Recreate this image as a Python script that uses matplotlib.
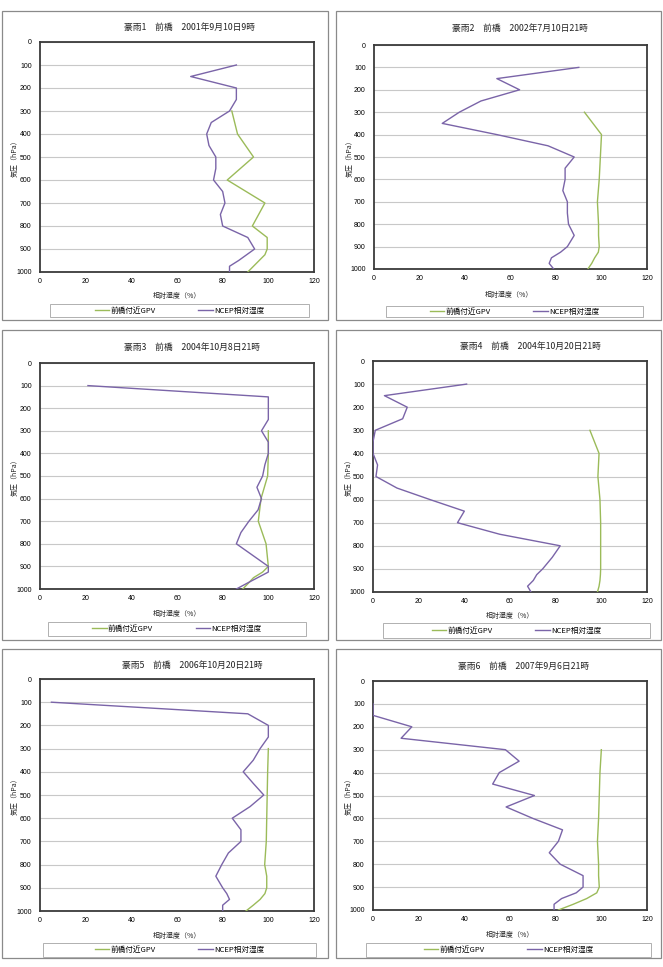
import matplotlib
matplotlib.use('Agg')
import matplotlib.pyplot as plt
from matplotlib.patches import Rectangle
from matplotlib.lines import Line2D

plt.rcParams['font.family'] = ['Noto Sans CJK JP', 'DejaVu Sans']

# ---------------- data ----------------
P_NCEP = [100, 150, 200, 250, 300, 350, 400, 450, 500, 550, 600, 650, 700,
          750, 800, 850, 900, 925, 950, 975, 1000]
P_GPV = [300, 400, 500, 600, 700, 800, 850, 900, 925, 950, 975, 1000]

NCEP1 = [86, 66, 86, 86, 83, 75, 73, 74, 77, 77, 76, 80, 81, 79, 80, 91, 94, 90.5, 87, 83, 83]
GPV1 = [84, 86.5, 93.5, 82, 98.5, 93, 99.5, 99.5, 98.5, 96, 93.5, 91]

NCEP2 = [90, 54, 64, 47, 37.5, 30, 54, 76.5, 88, 84, 84, 83, 85, 85, 85.5, 88, 85, 82, 78, 77, 79]
GPV2 = [92.5, 100, 99.5, 99, 98.2, 98.7, 98.7, 99, 98.6, 97, 95.7, 94]

NCEP3 = [21, 100, 100, 100, 97, 100, 100, 98.5, 97.5, 95, 97, 95.5, 91.5, 88, 86, 93, 100, 100, 95.3, 90.6, 86]
GPV3 = [100, 100, 99.7, 96.8, 95.6, 99, 99.5, 100, 97.5, 93.5, 91.2, 88.8]

NCEP4 = [41, 5, 15, 13, 1, 0, 0, 2, 1.3, 10.5, 25, 40, 37, 55.5, 82, 78.5, 74.3, 71.7, 70.2, 67.7, 69.2]
GPV4 = [95, 99, 98.5, 99.4, 99.7, 99.7, 99.7, 99.7, 99.6, 99.4, 99, 98.3]

NCEP5 = [5, 91, 100, 100, 96.4, 93.4, 89, 93.4, 98, 92, 84.2, 88, 88, 82.5, 79.6, 77, 80, 81.8, 83, 80, 80]
GPV5 = [100, 99.7, 99.5, 99.3, 99.1, 98.4, 99.3, 99.3, 98.5, 96.4, 93.4, 90.2]

NCEP6 = [0, 0, 17, 12.3, 58, 64, 55.3, 52.4, 70.7, 58.3, 70, 83, 81.2, 77.2, 82, 92, 92, 89, 82.6, 79.3, 79.3]
GPV6 = [100, 99.4, 99.1, 98.8, 98.3, 98.8, 98.8, 99.1, 98, 93.6, 87.7, 81.2]

NCEP = [NCEP1, NCEP2, NCEP3, NCEP4, NCEP5, NCEP6]
GPV = [GPV1, GPV2, GPV3, GPV4, GPV5, GPV6]

TITLES = ['豪雨1\u3000前橋\u30002001年9月10日9時',
          '豪雨2\u3000前橋\u30002002年7月10日21時',
          '豪雨3\u3000前橋\u30002004年10月8日21時',
          '豪雨4\u3000前橋\u30002004年10月20日21時',
          '豪雨5\u3000前橋\u30002006年10月20日21時',
          '豪雨6\u3000前橋\u30002007年9月6日21時']
LEGEND_LABELS = ['前橋付近GPV', 'NCEP相対湿度']
XLABEL = '相対湿度（%）'
YLABEL = '気圧（hPa）'
XTICKS = [0, 20, 40, 60, 80, 100, 120]
YTICKS = [0, 100, 200, 300, 400, 500, 600, 700, 800, 900, 1000]

GREEN = '#9BBB59'
PURPLE = '#7A64A8'

# ---------------- layout (pixels) ----------------
W, H = 663, 967
LAYOUT = [
    dict(box=(2, 11, 328, 320), plot=(40, 42, 314, 272), title=(190, 27),
         xl=(177, 296), yl=(15, 157), leg=(50, 304, 309, 317)),
    dict(box=(336, 11, 661, 320), plot=(374, 45, 647, 269), title=(520, 28),
         xl=(509, 295), yl=(350, 157), leg=(386, 306, 643, 317)),
    dict(box=(2, 330, 328, 640), plot=(40, 363, 314, 589), title=(192, 347),
         xl=(177, 614), yl=(15, 476), leg=(48, 622, 306, 636)),
    dict(box=(336, 330, 661, 640), plot=(373, 361, 647, 592), title=(530, 346),
         xl=(510, 616), yl=(349, 476), leg=(383, 623, 650, 638)),
    dict(box=(2, 649, 328, 958), plot=(40, 679, 314, 911), title=(192, 665),
         xl=(177, 936), yl=(15, 795), leg=(43, 943, 316, 957)),
    dict(box=(336, 649, 661, 958), plot=(373, 681, 647, 910), title=(524, 666),
         xl=(510, 935), yl=(349, 795), leg=(366, 943, 651, 957)),
]

fig = plt.figure(figsize=(W / 100, H / 100), dpi=100)
fig.patch.set_facecolor('white')


def fr(x0, y0, x1, y1):
    return [x0 / W, 1 - y1 / H, (x1 - x0) / W, (y1 - y0) / H]


def frame(x0, y0, x1, y1, color, lw):
    fig.add_artist(Rectangle((x0 / W, 1 - y1 / H), (x1 - x0) / W, (y1 - y0) / H,
                             transform=fig.transFigure, fill=False,
                             edgecolor=color, lw=lw))


NUMFONT = ['Liberation Sans', 'DejaVu Sans']

for i, lay in enumerate(LAYOUT):
    frame(*lay['box'], '#8a8a8a', 0.9)
    ax = fig.add_axes(fr(*lay['plot']))
    ax.plot(GPV[i], P_GPV, color=GREEN, lw=1.0, zorder=3)
    ax.plot(NCEP[i], P_NCEP, color=PURPLE, lw=1.0, zorder=4)
    ax.set_xlim(0, 120)
    ax.set_ylim(1000, 0)
    ax.set_xticks(XTICKS)
    ax.set_yticks(YTICKS)
    ax.set_xticklabels([str(v) for v in XTICKS], fontfamily=NUMFONT, fontsize=5)
    ax.set_yticklabels([str(v) for v in YTICKS], fontfamily=NUMFONT, fontsize=5)
    ax.tick_params(axis='x', length=0, pad=4)
    ax.tick_params(axis='y', length=0, pad=6)
    ax.yaxis.grid(True, color='#c8c8c8', lw=0.8)
    ax.set_axisbelow(True)
    for s in ax.spines.values():
        s.set_color('#3a3a3a')
        s.set_linewidth(1.3)

    tx, ty = lay['title']
    fig.text(tx / W, 1 - ty / H, TITLES[i], fontsize=6.3, ha='center', va='center',
             color='#222222')
    xx, xy = lay['xl']
    fig.text(xx / W, 1 - xy / H, XLABEL, fontsize=5, ha='center', va='center',
             color='#222222')
    yx, yy = lay['yl']
    fig.text(yx / W, 1 - yy / H, YLABEL, fontsize=5, ha='center', va='center',
             rotation=90, color='#222222')

    lx0, ly0, lx1, ly1 = lay['leg']
    frame(lx0, ly0, lx1, ly1, '#b0b0b0', 0.7)
    handles = [Line2D([], [], color=GREEN, lw=1.0), Line2D([], [], color=PURPLE, lw=1.0)]
    fig.legend(handles, LEGEND_LABELS, loc='center',
               bbox_to_anchor=((lx0 + lx1) / 2 / W, 1 - (ly0 + ly1) / 2 / H),
               ncol=2, frameon=False, fontsize=5.5, handlelength=1.9,
               handletextpad=0.15, columnspacing=5.6, borderpad=0,
               borderaxespad=0)

fig.savefig('out.png', dpi=100, facecolor='white')
